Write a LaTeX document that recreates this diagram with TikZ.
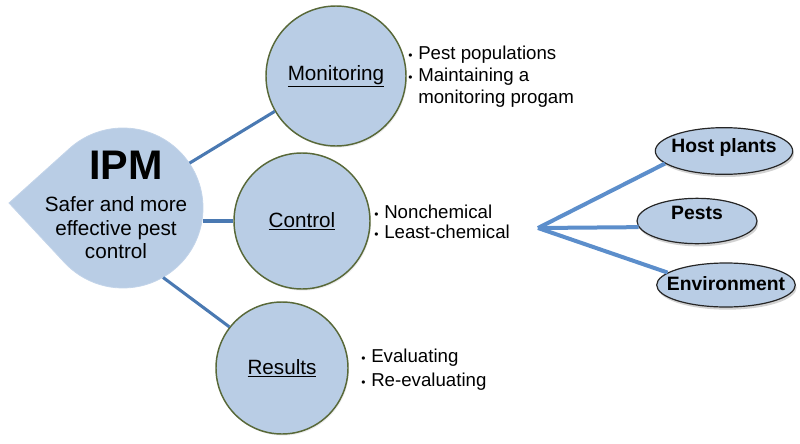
\documentclass[tikz,border=0pt]{standalone}
\usepackage{fontspec}
\setmainfont{Liberation Sans}
\usetikzlibrary{shapes.geometric,shadows}
\definecolor{fillblue}{RGB}{185,205,229}
\definecolor{ringgreen}{RGB}{88,104,56}
\definecolor{linkblue}{RGB}{74,121,178}
\definecolor{hubblue}{RGB}{92,142,203}
\newcommand\bulx{\makebox[7.5pt][l]{\fontsize{9}{9}\selectfont •}}
\newcommand\ovaltext[2]{\raisebox{#1}[0pt][0pt]{\makebox[0pt]{#2}}}
\begin{document}
\begin{tikzpicture}[x=0.75pt,y=0.75pt,
  roundbox/.style={circle, draw=ringgreen, line width=1.1pt, fill=fillblue, inner sep=0pt,
    font=\fontsize{15.5}{18}\selectfont,
    drop shadow={shadow xshift=0.8pt, shadow yshift=-1.2pt, fill=black!15}},
  ovalbox/.style={ellipse, draw=black!85, line width=0.9pt, fill=fillblue, inner sep=0pt,
    font=\fontsize{14.5}{17}\selectfont\bfseries,
    drop shadow={shadow xshift=1pt, shadow yshift=-2pt, fill=black!35}},
  bullets/.style={anchor=west, align=left, inner sep=0pt, font=\fontsize{14}{16.5}\selectfont},
  link/.style={draw=linkblue, line width=2.3pt},
  hublink/.style={draw=hubblue, line width=3pt},
]
\useasboundingbox (0,0) rectangle (800,-443);

% teardrop
\path[fill=fillblue, draw=fillblue!85!white, line width=0.6pt]
  (9,-203) -- ([shift={(133:80)}]123,-208)
  arc[start angle=133, end angle=-138, radius=80] -- cycle;
\node[circle, minimum size=120pt, inner sep=0pt] (ipm) at (123,-208) {};
\node[font=\fontsize{31}{31}\selectfont\bfseries, inner sep=0pt] (ipmt) at (126,-165) {IPM};
\node[align=center, inner sep=0pt, font=\fontsize{15.5}{17.6}\selectfont] (ipms) at (116,-228)
  {Safer and more\\effective pest\\control};

% circles
\node[roundbox, minimum size=105pt] (mon) at (336,-76) {\underline{Monitoring}};
\node[roundbox, minimum size=102pt] (ctl) at (302,-221) {\underline{Control}};
\node[roundbox, minimum size=99pt] (res) at (282,-368) {\underline{Results}};

\draw[link] (ipm.34) -- (mon.210);
\draw[link] (ipm.east |- ctl.west) -- (ctl.west);
\draw[link] (ipm.-60) -- (res.142);

% bullet texts
\node[bullets] (monb) at (408,-77)
  {\bulx Pest populations\\\bulx Maintaining a\\\hphantom{\bulx}monitoring progam};
\node[bullets, font=\fontsize{14}{15}\selectfont] (ctlb) at (374,-222)
  {\bulx Nonchemical\\\bulx Least-chemical};
\node[bullets, font=\fontsize{14}{18}\selectfont] (resb) at (361,-370)
  {\bulx Evaluating\\\bulx Re-evaluating};

% right side
\coordinate (hub) at (538,-228);
\node[ovalbox, minimum width=103pt, minimum height=35pt] (host) at (724,-151) {\ovaltext{-1pt}{Host plants}};
\node[ovalbox, minimum width=90pt, minimum height=34pt] (pests) at (697,-221) {\ovaltext{1.5pt}{Pests}};
\node[ovalbox, minimum width=104pt, minimum height=33pt] (env) at (726,-285) {\ovaltext{-4pt}{Environment}};

\draw[hublink] (hub) -- (host.192);
\draw[hublink] (hub) -- (pests.186);
\draw[hublink] (hub) -- (env.168);
\end{tikzpicture}
\end{document}
